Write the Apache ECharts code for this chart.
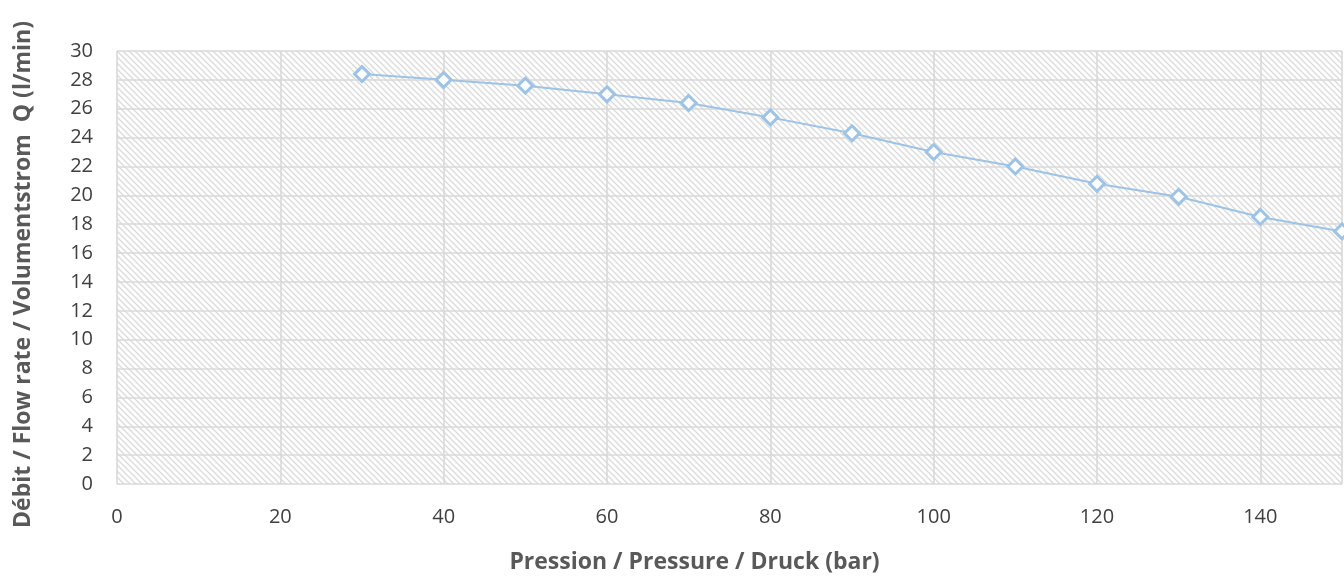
<!DOCTYPE html>
<html>
<head>
<meta charset="utf-8">
<script src="https://cdn.jsdelivr.net/npm/echarts@6/dist/echarts.min.js"></script>
<style>
html,body{margin:0;padding:0;background:#fff;}
#chart{width:1344px;height:576px;}
</style>
</head>
<body>
<div id="chart"></div>
<script>
const pressure = [30, 40, 50, 60, 70, 80, 90, 100, 110, 120, 130, 140, 150];
const flow = [28.4, 28.0, 27.6, 27.0, 26.4, 25.4, 24.3, 23.0, 22.0, 20.8, 19.9, 18.5, 17.5];
const xTitle = 'Pression / Pressure / Druck (bar)';
const yTitle = 'Débit / Flow rate / Volumentstrom  Q (l/min)';

// hatch pattern
const pc = document.createElement('canvas');
pc.width = 6; pc.height = 6;
const ctx = pc.getContext('2d');
ctx.fillStyle = '#ffffff';
ctx.fillRect(0, 0, 6, 6);
ctx.strokeStyle = '#dadada';
ctx.lineWidth = 1.3;
ctx.beginPath();
ctx.moveTo(-1, -1); ctx.lineTo(7, 7);
ctx.moveTo(-1, 5); ctx.lineTo(1, 7);
ctx.moveTo(5, -1); ctx.lineTo(7, 1);
ctx.stroke();

const chart = echarts.init(document.getElementById('chart'));
const fontFam = '"Open Sans", sans-serif';
chart.setOption({
  animation: false,
  grid: {
    left: 117, right: 2, top: 51, bottom: 92,
    containLabel: false,
    outerBoundsMode: 'none',
    show: true,
    backgroundColor: { image: pc, repeat: 'repeat' },
    borderWidth: 0
  },
  xAxis: {
    type: 'value', min: 0, max: 150, interval: 20,
    name: xTitle, nameLocation: 'middle', nameGap: 67,
    nameTextStyle: { fontFamily: fontFam, fontSize: 23, fontWeight: 'bold', color: '#595959', padding: [0, 70, 0, 0] },
    axisLine: { show: false }, axisTick: { show: false },
    axisLabel: { fontFamily: fontFam, fontSize: 20, color: '#404040', margin: 23, showMaxLabel: false },
    splitLine: { show: true, lineStyle: { color: '#d9d9d9', width: 1.6 } }
  },
  yAxis: {
    type: 'value', min: 0, max: 30, interval: 2,
    name: yTitle, nameLocation: 'middle', nameGap: 82,
    nameTextStyle: { fontFamily: fontFam, fontSize: 23, fontWeight: 'bold', color: '#595959', padding: [0, 14, 0, 0] },
    axisLine: { show: false }, axisTick: { show: false },
    axisLabel: { fontFamily: fontFam, fontSize: 20, color: '#404040', margin: 24 },
    splitLine: { show: true, lineStyle: { color: '#d9d9d9', width: 1.6 } }
  },
  series: [{
    type: 'line',
    data: pressure.map((p, i) => [p, flow[i]]),
    symbol: 'diamond', symbolSize: 15,
    showAllSymbol: true,
    clip: false,
    lineStyle: { color: '#9dc3e6', width: 2 },
    itemStyle: { color: '#ffffff', borderColor: '#9dc3e6', borderWidth: 3 }
  }]
});
</script>
</body>
</html>
